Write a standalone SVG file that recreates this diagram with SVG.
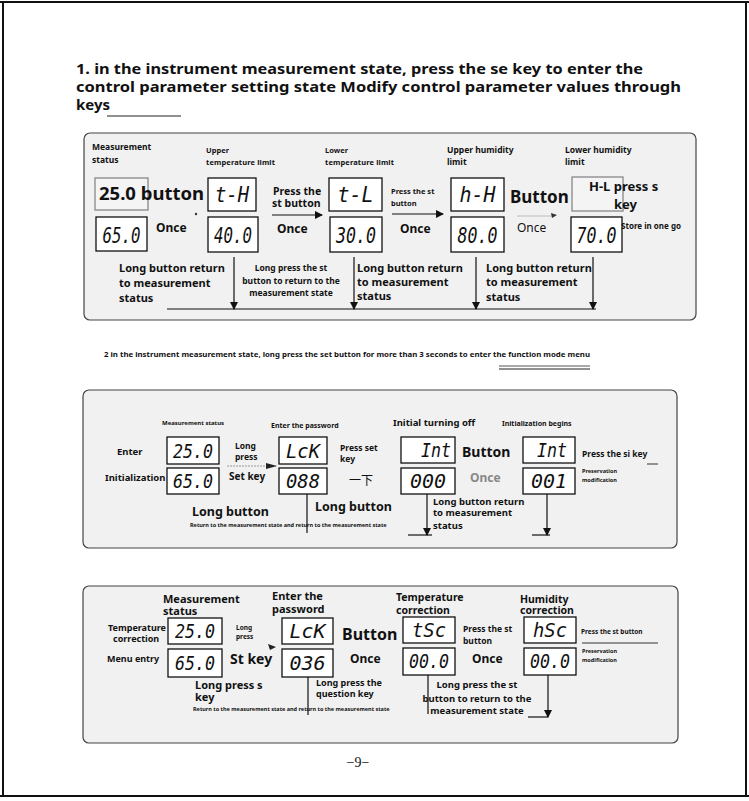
<svg xmlns="http://www.w3.org/2000/svg" width="749" height="801" viewBox="0 0 749 801">
<defs>
<marker id="ah" markerWidth="8" markerHeight="8" refX="7" refY="4" orient="auto" markerUnits="userSpaceOnUse"><path d="M0,0 L8,4 L0,8 Z" fill="#111"/></marker>
<style>
text{font-family:"Noto Sans","Open Sans","Liberation Sans",sans-serif;fill:#111}
.b{font-weight:bold}
.panel{fill:#f1f1f1;stroke:#444;stroke-width:1.2}
.box{fill:#fff;stroke:#111;stroke-width:1.3}
.fbox{fill:#f4f4f4;stroke:#888;stroke-width:1.3}
.lcd{font-family:"DejaVu Sans Mono","Liberation Mono",monospace;font-style:italic;font-size:22px;text-anchor:middle;fill:#111}
.lcds{font-family:"DejaVu Sans Mono","Liberation Mono",monospace;font-style:italic;font-size:19px;text-anchor:middle;fill:#111}
.ln{stroke:#111;stroke-width:1.2;fill:none}
.arr{stroke:#111;stroke-width:1.2;fill:none;marker-end:url(#ah)}
.mid{text-anchor:middle}
</style>
</defs>
<rect width="749" height="801" fill="#fff"/>
<g id="page-border" fill="none" stroke="#111" stroke-width="2">
<line x1="0" y1="2" x2="749" y2="2"/>
<line x1="3" y1="2" x2="3" y2="796"/>
<line x1="746" y1="2" x2="746" y2="796"/>
<line x1="0" y1="796" x2="749" y2="796"/>
</g>
<g id="title">
<text x="76" y="74" class="b" font-size="15" textLength="567" lengthAdjust="spacingAndGlyphs">1. in the instrument measurement state, press the se key to enter the</text>
<text x="76" y="92" class="b" font-size="15" textLength="605" lengthAdjust="spacingAndGlyphs">control parameter setting state Modify control parameter values through</text>
<text x="76" y="110" class="b" font-size="15">keys</text>
<line x1="107" y1="116" x2="181" y2="116" stroke="#222" stroke-width="1.2"/>
</g>
<!-- Panel 1 -->
<g id="panel1"><rect x="84" y="133" width="612" height="187" rx="6" class="panel"/></g>
<g id="p1-measure">
<text x="92" y="150" class="b" font-size="8.5">Measurement</text>
<text x="92" y="163" class="b" font-size="8.5">status</text>
<rect x="95" y="178" width="53" height="32" class="fbox"/>
<rect x="96" y="217" width="51" height="34" class="box"/>
<text x="121.5" y="243" class="lcd" textLength="38" lengthAdjust="spacingAndGlyphs">65.0</text>
<text x="99" y="200" class="b" font-size="17" textLength="105" lengthAdjust="spacingAndGlyphs">25.0 button</text>
<text x="156" y="232" class="b" font-size="12">Once</text>
<circle cx="196" cy="214" r="1.2" fill="#333"/>
</g>
<g id="p1-upper-temp">
<text x="206" y="153" class="b" font-size="7.5">Upper</text>
<text x="206" y="165" class="b" font-size="7.5" textLength="69">temperature limit</text>
<rect x="208" y="178" width="48" height="33" class="box"/>
<text x="232" y="202" class="lcd" textLength="34" lengthAdjust="spacingAndGlyphs">t-H</text>
<rect x="208" y="217" width="50" height="35" class="box"/>
<text x="233" y="243" class="lcd" textLength="38" lengthAdjust="spacingAndGlyphs">40.0</text>
</g>
<g id="p1-lower-temp">
<text x="325" y="153" class="b" font-size="7.5">Lower</text>
<text x="325" y="165" class="b" font-size="7.5" textLength="69">temperature limit</text>
<rect x="329" y="178" width="53" height="33" class="box"/>
<text x="355.5" y="202" class="lcd" textLength="36" lengthAdjust="spacingAndGlyphs">t-L</text>
<rect x="330" y="217" width="52" height="35" class="box"/>
<text x="356" y="243" class="lcd" textLength="40" lengthAdjust="spacingAndGlyphs">30.0</text>
</g>
<g id="p1-upper-hum">
<text x="447" y="153" class="b" font-size="8.5">Upper humidity</text>
<text x="447" y="165" class="b" font-size="8.5">limit</text>
<rect x="451" y="178" width="53" height="33" class="box"/>
<text x="477.5" y="202" class="lcd" textLength="36" lengthAdjust="spacingAndGlyphs">h-H</text>
<rect x="451" y="217" width="53" height="35" class="box"/>
<text x="477.5" y="243" class="lcd" textLength="40" lengthAdjust="spacingAndGlyphs">80.0</text>
</g>
<g id="p1-lower-hum">
<text x="565" y="153" class="b" font-size="8.5">Lower humidity</text>
<text x="565" y="165" class="b" font-size="8.5">limit</text>
<rect x="572" y="177" width="51" height="34" class="fbox"/>
<rect x="571" y="217" width="51" height="35" class="box"/>
<text x="596.5" y="243" class="lcd" textLength="40" lengthAdjust="spacingAndGlyphs">70.0</text>
<text x="589" y="191" class="b" font-size="13">H-L press s</text>
<text x="614" y="209" class="b" font-size="13">key</text>
<text x="621" y="229" class="b" font-size="8">Store in one go</text>
</g>
<g id="p1-connectors">
<text x="273" y="195" class="b" font-size="10.5">Press the</text>
<text x="272" y="207" class="b" font-size="10.5">st button</text>
<line x1="272" y1="215" x2="322" y2="215" class="arr"/>
<text x="277" y="233" class="b" font-size="12">Once</text>
<text x="391" y="194" class="b" font-size="7.5">Press the st</text>
<text x="391" y="206" class="b" font-size="7.5">button</text>
<line x1="392" y1="214" x2="443" y2="214" class="arr"/>
<text x="400" y="233" class="b" font-size="12">Once</text>
<text x="510" y="203" class="b" font-size="17">Button</text>
<text x="517" y="232" font-size="12">Once</text>
<line x1="517" y1="216" x2="553" y2="216" stroke="#bbb" stroke-width="1"/>
<path d="M551,213 L557,215 L552,218 Z" fill="#333"/>
<text x="119" y="272" class="b" font-size="11">Long button return</text>
<text x="119" y="287" class="b" font-size="11">to measurement</text>
<text x="119" y="302" class="b" font-size="11">status</text>
<text x="291" y="271" class="b mid" font-size="8.5">Long press the st</text>
<text x="291" y="284" class="b mid" font-size="8.5">button to return to the</text>
<text x="291" y="296" class="b mid" font-size="8.5">measurement state</text>
<text x="357" y="272" class="b" font-size="11">Long button return</text>
<text x="357" y="286" class="b" font-size="11">to measurement</text>
<text x="357" y="300" class="b" font-size="11">status</text>
<text x="486" y="272" class="b" font-size="11">Long button return</text>
<text x="486" y="286" class="b" font-size="11">to measurement</text>
<text x="486" y="301" class="b" font-size="11">status</text>
<line x1="234" y1="257" x2="234" y2="309" class="arr"/>
<line x1="354" y1="257" x2="354" y2="309" class="arr"/>
<line x1="476" y1="257" x2="476" y2="309" class="arr"/>
<line x1="593" y1="257" x2="593" y2="309" class="arr"/>
<line x1="167" y1="309" x2="596" y2="309" class="ln"/>
</g>
<!-- Section 2 heading -->
<g id="section2">
<text x="104" y="357" class="b" font-size="7" textLength="486" lengthAdjust="spacingAndGlyphs">2 in the instrument measurement state, long press the set button for more than 3 seconds to enter the function mode menu</text>
<line x1="499" y1="366" x2="590" y2="366" stroke="#555" stroke-width="1"/>
<line x1="499" y1="369" x2="590" y2="369" stroke="#222" stroke-width="1"/>
</g>
<!-- Panel 2 -->
<g id="panel2"><rect x="83" y="390" width="594" height="158" rx="6" class="panel"/></g>
<g id="p2-measure">
<text x="162" y="425" class="b" font-size="6">Measurement status</text>
<text x="117" y="455" class="b" font-size="9.5">Enter</text>
<text x="105" y="481" class="b" font-size="9.5">Initialization</text>
<rect x="167" y="437" width="52" height="27" class="box"/>
<text x="193" y="458" class="lcds" textLength="40" lengthAdjust="spacingAndGlyphs">25.0</text>
<rect x="167" y="468" width="52" height="26" class="box"/>
<text x="193" y="488" class="lcds" textLength="40" lengthAdjust="spacingAndGlyphs">65.0</text>
</g>
<g id="p2-password">
<text x="271" y="428" class="b" font-size="7">Enter the password</text>
<rect x="279" y="437" width="48" height="27" class="box"/>
<text x="303" y="458" class="lcds" textLength="34" lengthAdjust="spacingAndGlyphs">LcK</text>
<rect x="279" y="468" width="48" height="26" class="box"/>
<text x="303" y="488" class="lcds" textLength="34" lengthAdjust="spacingAndGlyphs">088</text>
<text x="340" y="451" class="b" font-size="8.5">Press set</text>
<text x="340" y="462" class="b" font-size="8.5">key</text>
<text x="349" y="485" font-size="12" style="font-family:'Noto Sans CJK SC','Noto Sans',sans-serif">一下</text>
</g>
<g id="p2-init-off">
<text x="393" y="426" class="b" font-size="9.5">Initial turning off</text>
<rect x="401" y="437" width="54" height="26" class="box"/>
<text x="436" y="457" class="lcds" textLength="30" lengthAdjust="spacingAndGlyphs">Int</text>
<rect x="401" y="468" width="54" height="26" class="box"/>
<text x="428" y="488" class="lcds" textLength="36" lengthAdjust="spacingAndGlyphs">000</text>
</g>
<g id="p2-init-begin">
<text x="502" y="426" class="b" font-size="7">Initialization begins</text>
<rect x="523" y="437" width="52" height="26" class="box"/>
<text x="552" y="457" class="lcds" textLength="30" lengthAdjust="spacingAndGlyphs">Int</text>
<rect x="523" y="468" width="52" height="26" class="box"/>
<text x="549" y="488" class="lcds" textLength="36" lengthAdjust="spacingAndGlyphs">001</text>
<text x="582" y="457" class="b" font-size="8.5">Press the si key</text>
<text x="582" y="473" class="b" font-size="5.5">Preservation</text>
<text x="582" y="482" class="b" font-size="5.5">modification</text>
<line x1="647" y1="464" x2="658" y2="464" stroke="#333" stroke-width="1"/>
</g>
<g id="p2-connectors">
<text x="235" y="449" class="b" font-size="8.5">Long</text>
<text x="235" y="460" class="b" font-size="8.5">press</text>
<line x1="227" y1="466" x2="276" y2="466" stroke="#999" stroke-width="1" stroke-dasharray="2 1"/>
<path d="M266,463 L277,466 L266,469 Z" fill="#222"/>
<text x="229" y="480" class="b" font-size="10">Set key</text>
<text x="462" y="457" class="b" font-size="14">Button</text>
<text x="470" y="482" class="b" font-size="12" style="fill:#888">Once</text>
<text x="192" y="516" class="b" font-size="12.5">Long button</text>
<text x="315" y="511" class="b" font-size="12.5">Long button</text>
<text x="190" y="527" class="b" font-size="5.5">Return to the measurement state and return to the measurement state</text>
<line x1="307" y1="494" x2="307" y2="533" class="ln"/>
<text x="433" y="505" class="b" font-size="9.5">Long button return</text>
<text x="433" y="516" class="b" font-size="9.5">to measurement</text>
<text x="433" y="529" class="b" font-size="9.5">status</text>
<line x1="427" y1="494" x2="427" y2="535" class="arr"/>
<line x1="408" y1="535" x2="432" y2="535" class="ln"/>
<line x1="547" y1="494" x2="547" y2="535" class="arr"/>
<line x1="532" y1="535" x2="550" y2="535" class="ln"/>
</g>
<!-- Panel 3 -->
<g id="panel3"><rect x="83" y="586" width="595" height="157" rx="6" class="panel"/></g>
<g id="p3-measure">
<text x="163" y="603" class="b" font-size="11">Measurement</text>
<text x="163" y="615" class="b" font-size="11">status</text>
<text x="108" y="631" class="b" font-size="9">Temperature</text>
<text x="113" y="642" class="b" font-size="9">correction</text>
<text x="107" y="662" class="b" font-size="9">Menu entry</text>
<rect x="168" y="618" width="54" height="26" class="box"/>
<text x="195" y="638" class="lcds" textLength="40" lengthAdjust="spacingAndGlyphs">25.0</text>
<rect x="168" y="649" width="54" height="28" class="box"/>
<text x="195" y="670" class="lcds" textLength="40" lengthAdjust="spacingAndGlyphs">65.0</text>
</g>
<g id="p3-password">
<text x="272" y="600" class="b" font-size="11">Enter the</text>
<text x="272" y="613" class="b" font-size="11">password</text>
<rect x="282" y="618" width="51" height="26" class="box"/>
<text x="307.5" y="638" class="lcds" textLength="36" lengthAdjust="spacingAndGlyphs">LcK</text>
<rect x="282" y="649" width="51" height="28" class="box"/>
<text x="307.5" y="670" class="lcds" textLength="36" lengthAdjust="spacingAndGlyphs">036</text>
</g>
<g id="p3-temp-corr">
<text x="396" y="601" class="b" font-size="10.5">Temperature</text>
<text x="396" y="614" class="b" font-size="10.5">correction</text>
<rect x="403" y="617" width="52" height="26" class="box"/>
<text x="429" y="637" class="lcds" textLength="34" lengthAdjust="spacingAndGlyphs">tSc</text>
<rect x="403" y="648" width="52" height="27" class="box"/>
<text x="429" y="668" class="lcds" textLength="40" lengthAdjust="spacingAndGlyphs">00.0</text>
</g>
<g id="p3-hum-corr">
<text x="520" y="603" class="b" font-size="10.5">Humidity</text>
<text x="520" y="614" class="b" font-size="10.5">correction</text>
<rect x="524" y="617" width="52" height="26" class="box"/>
<text x="550" y="637" class="lcds" textLength="34" lengthAdjust="spacingAndGlyphs">hSc</text>
<rect x="524" y="648" width="52" height="27" class="box"/>
<text x="550" y="668" class="lcds" textLength="40" lengthAdjust="spacingAndGlyphs">00.0</text>
<text x="581" y="634" class="b" font-size="6.5">Press the st button</text>
<line x1="582" y1="643" x2="658" y2="643" stroke="#333" stroke-width="1"/>
<text x="582" y="653" class="b" font-size="5.5">Preservation</text>
<text x="582" y="662" class="b" font-size="5.5">modification</text>
</g>
<g id="p3-connectors">
<text x="236" y="630" class="b" font-size="6.5">Long</text>
<text x="236" y="639" class="b" font-size="6.5">press</text>
<path d="M268,644 L276,647 L270,650 Z" fill="#222"/>
<text x="230" y="664" class="b" font-size="14">St key</text>
<text x="342" y="640" class="b" font-size="16">Button</text>
<text x="350" y="663" class="b" font-size="12">Once</text>
<text x="195" y="689" class="b" font-size="11">Long press s</text>
<text x="195" y="701" class="b" font-size="11">key</text>
<text x="316" y="686" class="b" font-size="9">Long press the</text>
<text x="316" y="697" class="b" font-size="9">question key</text>
<text x="193" y="711" class="b" font-size="5.5">Return to the measurement state and return to the measurement state</text>
<line x1="308" y1="677" x2="308" y2="715" class="ln"/>
<text x="463" y="632" class="b" font-size="8.5">Press the st</text>
<text x="463" y="644" class="b" font-size="8.5">button</text>
<text x="472" y="663" class="b" font-size="12">Once</text>
<text x="477" y="688" class="b mid" font-size="9.5">Long press the st</text>
<text x="477" y="702" class="b mid" font-size="9.5">button to return to the</text>
<text x="477" y="714" class="b mid" font-size="9.5">measurement state</text>
<line x1="428" y1="675" x2="428" y2="714" class="ln"/>
<line x1="548" y1="675" x2="548" y2="717" class="arr"/>
<line x1="528" y1="717" x2="548" y2="717" class="ln"/>
</g>
<g id="page-number">
<text x="358" y="767" class="mid" font-size="14" style="font-family:'Liberation Serif',serif">−9−</text>
</g>
</svg>
